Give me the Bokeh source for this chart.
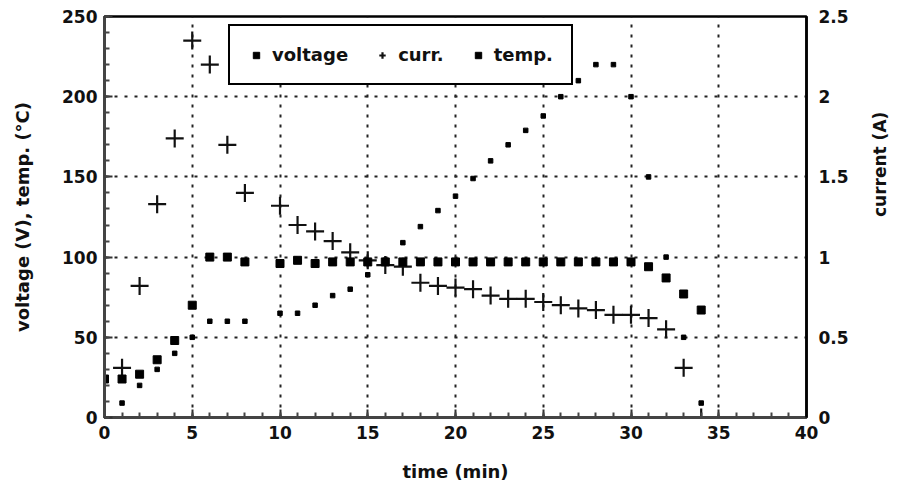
import math
from bokeh.plotting import figure
from bokeh.models import (Range1d, LinearAxis, SingleIntervalTicker, FixedTicker,
                          NumeralTickFormatter, Legend, LegendItem)
from bokeh.embed import file_html
from bokeh.resources import INLINE

# ---- data ----
time_v = [1, 2, 3, 4, 5, 6, 7, 8, 10, 11, 12, 13, 14, 15, 16, 17, 18, 19, 20,
          21, 22, 23, 24, 25, 26, 27, 28, 29, 30, 31, 32, 33, 34]
voltage = [9, 20, 30, 40, 50, 60, 60, 60, 65, 65, 70, 76, 80, 89, 98, 109, 119, 129, 138,
           149, 160, 170, 179, 188, 200, 210, 220, 220, 200, 150, 100, 50, 9]

time_c = [1, 2, 3, 4, 5, 6, 7, 8, 10, 11, 12, 13, 14, 15, 16, 17, 18, 19, 20,
          21, 22, 23, 24, 25, 26, 27, 28, 29, 30, 31, 32, 33, 34]
current = [0.31, 0.82, 1.33, 1.74, 2.35, 2.20, 1.70, 1.40, 1.32, 1.20, 1.16, 1.10, 1.03,
           0.98, 0.95, 0.94, 0.84, 0.82, 0.81, 0.80, 0.76, 0.74, 0.74, 0.72, 0.70, 0.68,
           0.67, 0.64, 0.64, 0.62, 0.55, 0.31, 0.0]

time_t = [0, 1, 2, 3, 4, 5, 6, 7, 8, 10, 11, 12, 13, 14, 15, 16, 17, 18, 19, 20,
          21, 22, 23, 24, 25, 26, 27, 28, 29, 30, 31, 32, 33, 34]
temp = [24, 24, 27, 36, 48, 70, 100, 100, 97, 96, 98, 96, 97, 97, 97, 97, 97, 97, 97, 97,
        97, 97, 97, 97, 97, 97, 97, 97, 97, 97, 94, 87, 77, 67]

current_ticks = [0, 0.5, 1, 1.5, 2, 2.5]

FONT = "DejaVu Sans"

p = figure(width=902, height=484, output_backend="svg", toolbar_location=None,
           x_range=Range1d(0, 40), y_range=Range1d(0, 250),
           min_border_left=104, min_border_right=87, min_border_top=16, min_border_bottom=60,
           background_fill_color="white", border_fill_color="white")
p.extra_y_ranges = {"cur": Range1d(0, 2.5)}

p.outline_line_color = "black"
p.outline_line_width = 2.5
p.outline_line_alpha = 1.0

# axes
p.xaxis.ticker = SingleIntervalTicker(interval=5, num_minor_ticks=5)
p.yaxis.ticker = SingleIntervalTicker(interval=50, num_minor_ticks=5)
for ax in (p.xaxis[0], p.yaxis[0]):
    ax.major_tick_in = 8
    ax.major_tick_out = 0
    ax.minor_tick_in = 5
    ax.minor_tick_out = 0
    ax.major_tick_line_width = 2
    ax.minor_tick_line_width = 2
    ax.major_tick_line_color = "#333"
    ax.minor_tick_line_color = "#444"
    ax.axis_line_color = "#444"
    ax.axis_line_width = 3
    ax.major_label_text_font = FONT
    ax.major_label_text_font_style = "bold"
    ax.major_label_text_font_size = "17px"
    ax.major_label_text_color = "#111"
    ax.axis_label_text_font = FONT
    ax.axis_label_text_font_style = "bold"
    ax.axis_label_text_font_size = "18px"
    ax.axis_label_text_color = "#111"

p.xaxis.axis_label = "time (min)"
p.xaxis.major_label_standoff = 8
p.xaxis.axis_label_standoff = 19
p.yaxis.axis_label = "voltage (V), temp. (°C)"
p.yaxis.major_label_standoff = 7
p.yaxis.axis_label_standoff = 26

rax = LinearAxis(y_range_name="cur", ticker=FixedTicker(ticks=current_ticks),
                 formatter=NumeralTickFormatter(format="0.[0]"),
                 axis_label="current (A)")
rax.major_tick_in = 0
rax.major_tick_out = 0
rax.minor_tick_in = 0
rax.minor_tick_out = 0
rax.axis_line_color = "black"
rax.axis_line_width = 2.5
rax.major_label_standoff = 12
rax.axis_label_standoff = 28
rax.major_label_text_font = FONT
rax.major_label_text_font_style = "bold"
rax.major_label_text_font_size = "17px"
rax.major_label_text_color = "#111"
rax.axis_label_text_font = FONT
rax.axis_label_text_font_style = "bold"
rax.axis_label_text_font_size = "17px"
rax.axis_label_text_color = "#111"
try:
    rax.axis_label_orientation = math.pi / 2
except Exception:
    pass
p.add_layout(rax, "right")

# grids
for g in (p.xgrid[0], p.ygrid[0]):
    g.grid_line_color = "#222"
    g.grid_line_width = 2
    g.grid_line_dash = "3 7"

# data
r_v = p.scatter(time_v, voltage, marker="square", size=4.5, color="black")
r_c = p.scatter(time_c, current, marker="cross", size=18, line_width=2.2,
                line_color="#111", y_range_name="cur")
r_t = p.scatter(time_t, temp, marker="square", size=8, color="black")

legend = Legend(items=[LegendItem(label="voltage", renderers=[r_v]),
                       LegendItem(label="curr.", renderers=[r_c]),
                       LegendItem(label="temp.", renderers=[r_t])],
                orientation="horizontal", location=(124, 332), margin=0,
                padding=18, spacing=26, glyph_width=16, glyph_height=20,
                label_standoff=8,
                label_text_font=FONT, label_text_font_style="bold",
                label_text_font_size="18px", label_text_color="#111",
                border_line_color="black", border_line_width=2.5, border_line_alpha=1.0,
                background_fill_color="white", background_fill_alpha=1.0)
p.add_layout(legend, "center")

open("out.html", "w").write(file_html(p, INLINE))
